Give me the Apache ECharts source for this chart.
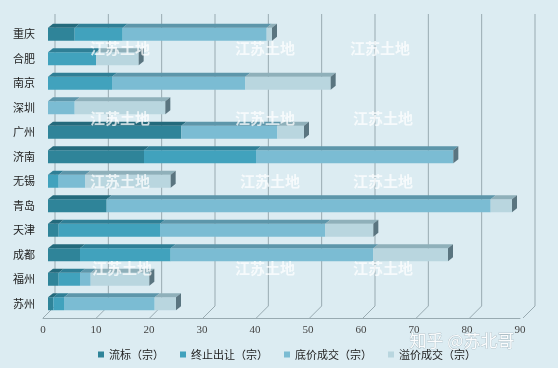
<!DOCTYPE html>
<html>
<head>
<meta charset="utf-8">
<script src="https://cdn.jsdelivr.net/npm/echarts@6/dist/echarts.min.js"></script>
<style>html,body{margin:0;padding:0;background:#fff;}#c{width:558px;height:368px;}</style>
</head>
<body>
<div id="c"></div>
<script>
const cities = ['重庆','合肥','南京','深圳','广州','济南','无锡','青岛','天津','成都','福州','苏州'];
const liubiao  = [5, 0, 0, 0, 25, 18, 0, 11, 2, 6, 2, 1];
const zhongzhi = [9, 9, 12, 0, 0, 21, 2, 0, 19, 17, 4, 2];
const dijia    = [27, 0, 25, 5, 18, 37, 5, 72, 31, 38, 2, 17];
const yijia    = [1, 8, 16, 17, 5, 0, 16, 4, 9, 14, 11, 4];
const xTicks = [0, 10, 20, 30, 40, 50, 60, 70, 80, 90];
const seriesNames = ['流标（宗）', '终止出让（宗）', '底价成交（宗）', '溢价成交（宗）'];

const seriesVals = [liubiao, zhongzhi, dijia, yijia];
const fronts = ['#2f8499', '#41a2bd', '#7bbcd3', '#b9d6df'];
const tops = ['#246a7c', '#2f7f96', '#5d96aa', '#8fb0ba'];
const capColor = '#5a7580';
const DX = 5, DY = 4;

// build stacked segments
const segs = seriesVals.map(() => []);
cities.forEach((c, i) => {
  let acc = 0;
  let lastS = -1;
  seriesVals.forEach((arr, s) => { if (arr[i] > 0) lastS = s; });
  seriesVals.forEach((arr, s) => {
    const v = arr[i];
    if (v > 0) segs[s].push([acc, acc + v, i, s === lastS ? 1 : 0]);
    acc += v;
  });
});

function barRender(s) {
  return function (params, api) {
    const a = api.value(0), b = api.value(1), cat = api.value(2), last = api.value(3);
    const p0 = api.coord([a, cat]);
    const p1 = api.coord([b, cat]);
    const h = api.size([0, 1])[1] * 0.53;
    const x0 = p0[0], x1 = p1[0], top = p0[1] - h / 2, bot = p0[1] + h / 2;
    const children = [
      { type: 'rect', shape: { x: x0, y: top, width: x1 - x0, height: h }, style: { fill: fronts[s] } },
      { type: 'polygon', shape: { points: [[x0, top], [x0 + DX, top - DY], [x1 + DX, top - DY], [x1, top]] }, style: { fill: tops[s] } }
    ];
    if (last) {
      children.push({ type: 'polygon', shape: { points: [[x1, top], [x1 + DX, top - DY], [x1 + DX, bot - DY], [x1, bot]] }, style: { fill: capColor } });
    }
    return { type: 'group', children: children };
  };
}

const series = seriesNames.map((n, s) => ({
  name: n,
  type: 'custom',
  xAxisIndex: 0, yAxisIndex: 0,
  renderItem: barRender(s),
  itemStyle: { color: fronts[s] },
  encode: { x: [0, 1], y: 2 },
  data: segs[s],
  z: 5 + s,
  clip: false
}));

series.push({
  name: 'wall',
  type: 'custom',
  xAxisIndex: 1, yAxisIndex: 1,
  silent: true,
  z: 1,
  clip: false,
  renderItem: function (params, api) {
    const v = api.value(0);
    const pt = api.coord([v, 1]);
    const pb = api.coord([v, 0]);
    return { type: 'polyline', shape: { points: [[pt[0], pt[1]], [pb[0], pb[1]], [pb[0] - 12, pb[1] + 12]] }, style: { stroke: '#98aab1', lineWidth: 1, fill: null } };
  },
  encode: { x: 0 },
  data: xTicks.map(v => [v, 0])
});

const wm = [[120, 50], [265, 50], [380, 50], [120, 120], [265, 120], [383, 120], [120, 183], [270, 183], [383, 183], [122, 270], [265, 270], [383, 270]];
const graphic = wm.map(p => ({
  type: 'text', x: p[0], y: p[1], z: 50,
  style: { text: '江苏土地', fill: 'rgba(255,255,255,0.75)', font: 'bold 15px "Liberation Serif", "Noto Sans CJK SC", serif', textAlign: 'center', textVerticalAlign: 'middle' }
}));
graphic.push({
  type: 'text', x: 462, y: 341, z: 50,
  style: { text: '知乎 @苏北哥', fill: 'rgba(255,255,255,0.92)', stroke: 'rgba(110,130,140,0.55)', lineWidth: 0.6, font: '17px "Noto Sans CJK SC", sans-serif', textAlign: 'center', textVerticalAlign: 'middle' }
});

const chart = echarts.init(document.getElementById('c'), null, { renderer: 'canvas' });
chart.setOption({
  backgroundColor: '#dcecf2',
  animation: false,
  graphic: graphic,
  legend: {
    data: seriesNames,
    left: 93, top: 344,
    icon: 'rect', itemWidth: 6, itemHeight: 6, itemGap: 16,
    textStyle: { fontSize: 11, color: '#222', fontFamily: '"Noto Sans CJK SC", sans-serif' }
  },
  grid: [
    { left: 48, width: 480, top: 22, height: 294 },
    { left: 55, width: 480, top: 14, height: 292 },
    { left: 43, width: 477, top: 300, height: 18 }
  ],
  xAxis: [
    { gridIndex: 0, type: 'value', min: 0, max: 90, interval: 10, show: false },
    { gridIndex: 1, type: 'value', min: 0, max: 90, interval: 10, show: false },
    { gridIndex: 2, type: 'value', min: 0, max: 90, interval: 10,
      axisLine: { show: true, lineStyle: { color: '#98aab1' } }, axisTick: { show: false }, splitLine: { show: false },
      axisLabel: { fontSize: 11, color: '#444', margin: 7, fontFamily: '"Liberation Serif", serif' } }
  ],
  yAxis: [
    { gridIndex: 0, type: 'category', data: cities, inverse: true,
      axisLine: { show: false }, axisTick: { show: false },
      axisLabel: { fontSize: 11, color: '#222', margin: 13, fontFamily: '"Noto Sans CJK SC", sans-serif' } },
    { gridIndex: 1, type: 'value', min: 0, max: 1, show: false },
    { gridIndex: 2, type: 'value', min: 0, max: 1, show: false }
  ],
  series: series
});
</script>
</body>
</html>
